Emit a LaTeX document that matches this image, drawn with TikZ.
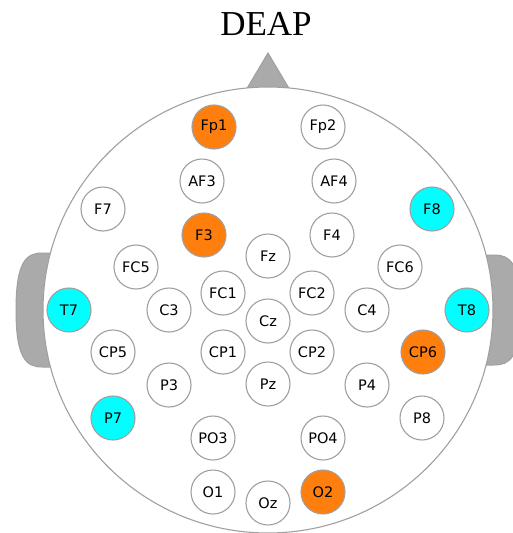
\documentclass[tikz,border=0pt]{standalone}
\usepackage{fontspec}
\setmainfont{Liberation Serif}
\newfontfamily\elecfont{DejaVu Sans}
\definecolor{headgray}{HTML}{A0A0A0}
\definecolor{earfill}{HTML}{AAAAAA}
\definecolor{elecorange}{HTML}{FF7F0E}
\definecolor{eleccyan}{HTML}{00FFFF}
\tikzset{
  elec/.style={circle, draw=headgray, line width=1.1pt, fill=white, minimum size=44pt, inner sep=0pt, font=\elecfont\fontsize{14.5}{15}\selectfont},
  hot/.style={elec, fill=elecorange},
  cool/.style={elec, fill=eleccyan},
  partfill/.style={fill=earfill, draw=headgray, line width=1pt}
}
\begin{document}
\begin{tikzpicture}[x=1pt,y=-1pt]
\useasboundingbox (0,0) rectangle (512,533);
% title
\node (title) at (266,24) {\fontsize{35}{37}\selectfont DEAP};
% ears and nose
\draw[partfill] (16,310) .. controls (16,262) and (26,253) .. (42,253) -- (60,253) -- (60,367) -- (42,367) .. controls (26,367) and (16,358) .. (16,310) -- cycle;
\draw[partfill] (520,310) .. controls (520,262) and (510,255) .. (494,255) -- (476,255) -- (476,365) -- (494,365) .. controls (510,365) and (520,358) .. (520,310) -- cycle;
\draw[partfill] (246,90) -- (268,53) -- (290,90) -- cycle;
% head
\draw[headgray, line width=1.1pt, fill=white] (268,310) ellipse [x radius=225, y radius=223];
% electrodes
\node[hot]  (Fp1) at (214,127) {Fp1};
\node[elec] (Fp2) at (323,127) {Fp2};
\node[elec] (AF3) at (202,181) {AF3};
\node[elec] (AF4) at (334,181) {AF4};
\node[elec] (F7)  at (103,209) {F7};
\node[cool] (F8)  at (432,209) {F8};
\node[hot]  (F3)  at (204,235) {F3};
\node[elec] (Fz)  at (268,256) {Fz};
\node[elec] (F4)  at (332,235) {F4};
\node[elec] (FC5) at (136,267) {FC5};
\node[elec] (FC6) at (400,267) {FC6};
\node[elec] (FC1) at (223,293) {FC1};
\node[elec] (FC2) at (312,293) {FC2};
\node[cool] (T7)  at (69,310)  {T7};
\node[elec] (C3)  at (169,310) {C3};
\node[elec] (Cz)  at (268,321) {Cz};
\node[elec] (C4)  at (367,310) {C4};
\node[cool] (T8)  at (467,310) {T8};
\node[elec] (CP5) at (113,352) {CP5};
\node[elec] (CP1) at (223,352) {CP1};
\node[elec] (CP2) at (312,352) {CP2};
\node[hot]  (CP6) at (423,352) {CP6};
\node[elec] (P3)  at (169,385) {P3};
\node[elec] (Pz)  at (268,384) {Pz};
\node[elec] (P4)  at (367,385) {P4};
\node[cool] (P7)  at (113,418) {P7};
\node[elec] (P8)  at (422,418) {P8};
\node[elec] (PO3) at (213,438) {PO3};
\node[elec] (PO4) at (323,438) {PO4};
\node[elec] (O1)  at (213,492) {O1};
\node[elec] (Oz)  at (268,503) {Oz};
\node[hot]  (O2)  at (323,492) {O2};
\end{tikzpicture}
\end{document}
